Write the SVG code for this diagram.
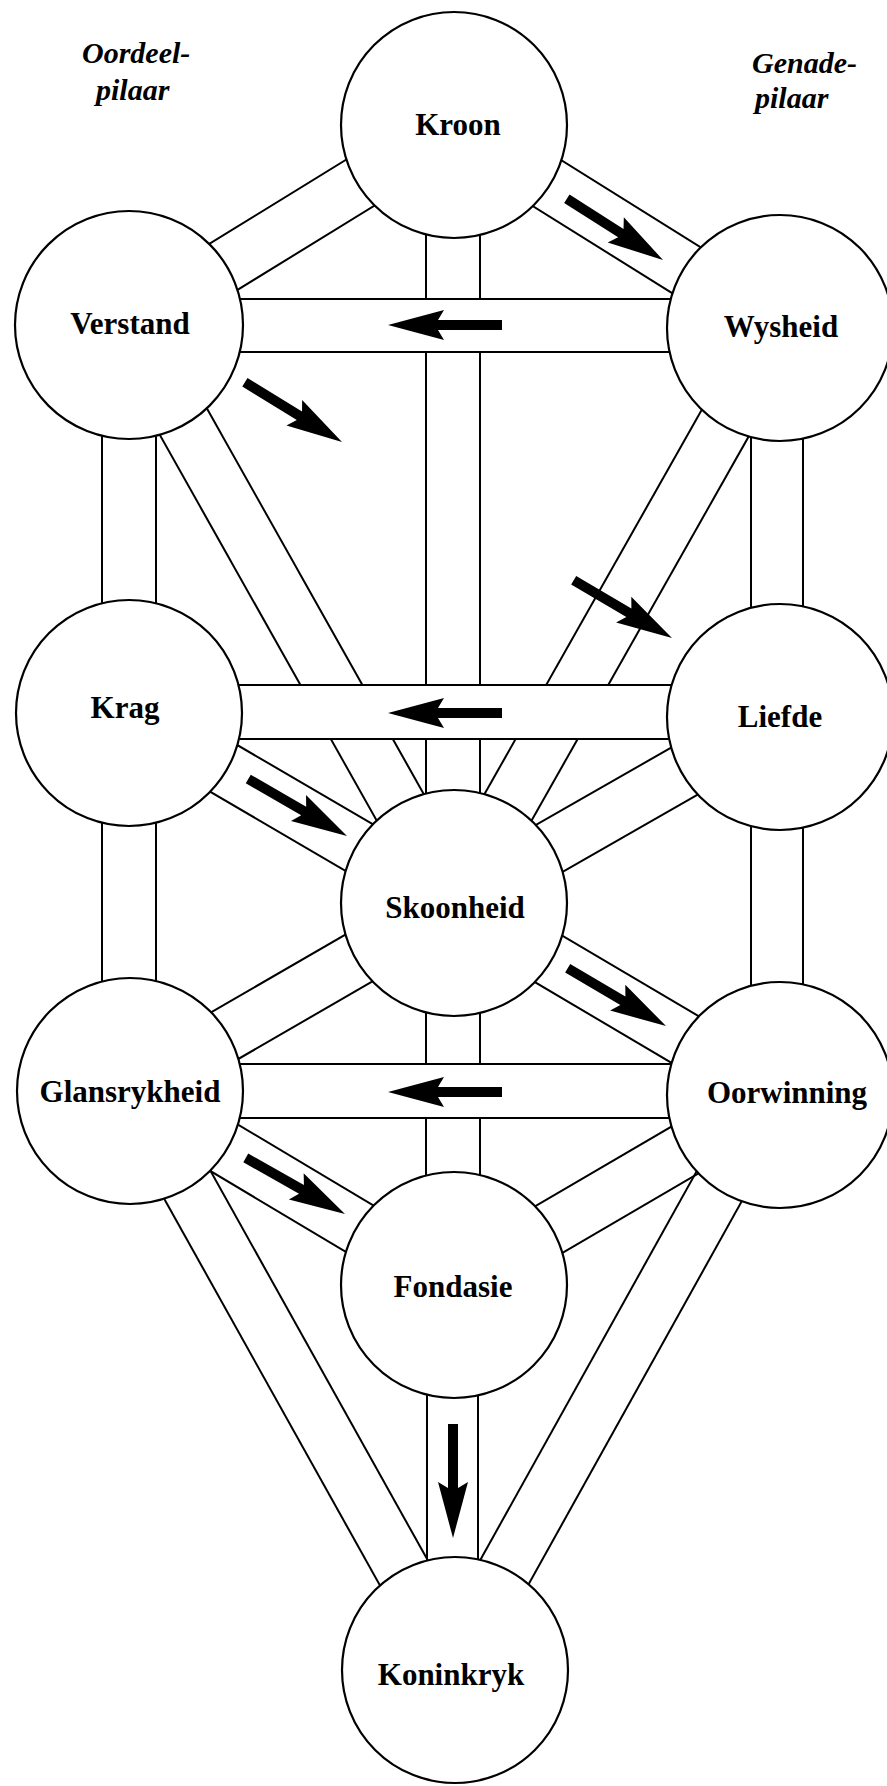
<svg xmlns="http://www.w3.org/2000/svg" xmlns:xlink="http://www.w3.org/1999/xlink" width="887" height="1786" viewBox="0 0 887 1786">
<style>
.ch line{stroke:#000;stroke-width:2;fill:none}
.bar rect{fill:#fff;stroke:none}
.node circle{fill:#fff;stroke:#000;stroke-width:2.2}
.lbl{font-family:"Liberation Serif","Times New Roman",serif;font-weight:bold;font-size:31px;text-anchor:middle;fill:#000}
.pil{font-family:"Liberation Serif","Times New Roman",serif;font-style:italic;font-weight:bold;font-size:30px;fill:#000}
.arr{fill:#000}
</style>
<defs>
<path id="arrow" d="M0,0 L-56,-15 L-50,-5 L-114,-5 L-114,5 L-50,5 L-56,15 Z"/>
</defs>
<rect width="887" height="1786" fill="#fff"/>
<g id="connectors">
  <g class="ch" transform="translate(454,125) rotate(148.4)"><line x1="0" y1="-27" x2="382" y2="-27"/><line x1="0" y1="27" x2="382" y2="27"/></g>
  <g class="ch" transform="translate(454,125) rotate(32)"><line x1="0" y1="-27" x2="383" y2="-27"/><line x1="0" y1="27" x2="383" y2="27"/></g>
  <g class="ch"><line x1="426" y1="125" x2="426" y2="903"/><line x1="480" y1="125" x2="480" y2="903"/></g>
  <g class="ch"><line x1="102" y1="325" x2="102" y2="713"/><line x1="156" y1="325" x2="156" y2="713"/></g>
  <g class="ch" transform="translate(129,325) rotate(60.65)"><line x1="0" y1="-27" x2="663" y2="-27"/><line x1="0" y1="27" x2="663" y2="27"/></g>
  <g class="ch"><line x1="751" y1="328" x2="751" y2="717"/><line x1="803" y1="328" x2="803" y2="717"/></g>
  <g class="ch" transform="translate(779,328) rotate(119.48)"><line x1="0" y1="-27" x2="660" y2="-27"/><line x1="0" y1="27" x2="660" y2="27"/></g>
  <g class="ch" transform="translate(129,713) rotate(30.31)"><line x1="0" y1="-27" x2="376" y2="-27"/><line x1="0" y1="27" x2="376" y2="27"/></g>
  <g class="ch" transform="translate(779,717) rotate(150.22)"><line x1="0" y1="-27" x2="374" y2="-27"/><line x1="0" y1="27" x2="374" y2="27"/></g>
  <g class="ch"><line x1="102" y1="713" x2="102" y2="1091"/><line x1="156" y1="713" x2="156" y2="1091"/></g>
  <g class="ch"><line x1="751" y1="717" x2="751" y2="1095"/><line x1="803" y1="717" x2="803" y2="1095"/></g>
  <g class="ch" transform="translate(454,903) rotate(149.95)"><line x1="0" y1="-27" x2="375" y2="-27"/><line x1="0" y1="27" x2="375" y2="27"/></g>
  <g class="ch" transform="translate(454,903) rotate(30.57)"><line x1="0" y1="-27" x2="377" y2="-27"/><line x1="0" y1="27" x2="377" y2="27"/></g>
  <g class="ch"><line x1="426" y1="903" x2="426" y2="1285"/><line x1="480" y1="903" x2="480" y2="1285"/></g>
  <g class="ch" transform="translate(129,1091) rotate(30.83)"><line x1="0" y1="-27" x2="378" y2="-27"/><line x1="0" y1="27" x2="378" y2="27"/></g>
  <g class="ch" transform="translate(779,1095) rotate(149.69)"><line x1="0" y1="-27" x2="376" y2="-27"/><line x1="0" y1="27" x2="376" y2="27"/></g>
  <g class="ch" transform="translate(135,1091) rotate(60.84)"><line x1="0" y1="-27" x2="663" y2="-27"/><line x1="0" y1="27" x2="663" y2="27"/></g>
  <g class="ch" transform="translate(770,1095) rotate(119.1)"><line x1="0" y1="-27" x2="658" y2="-27"/><line x1="0" y1="27" x2="658" y2="27"/></g>
  <g class="ch"><line x1="427" y1="1285" x2="427" y2="1670"/><line x1="478" y1="1285" x2="478" y2="1670"/></g>
  <g class="ch bar"><rect x="129" y="299" width="650" height="53"/><line x1="129" y1="299" x2="779" y2="299"/><line x1="129" y1="352" x2="779" y2="352"/></g>
  <g class="ch bar"><rect x="129" y="685" width="650" height="54"/><line x1="129" y1="685" x2="779" y2="685"/><line x1="129" y1="739" x2="779" y2="739"/></g>
  <g class="ch bar"><rect x="129" y="1064" width="650" height="54"/><line x1="129" y1="1064" x2="779" y2="1064"/><line x1="129" y1="1118" x2="779" y2="1118"/></g>
  <g id="arrows" class="arr">
    <use xlink:href="#arrow" href="#arrow" transform="translate(663,260) rotate(32.5)"/>
    <use xlink:href="#arrow" href="#arrow" transform="translate(388,325) rotate(180)"/>
    <use xlink:href="#arrow" href="#arrow" transform="translate(342,442) rotate(31.6)"/>
    <use xlink:href="#arrow" href="#arrow" transform="translate(672,638) rotate(30.4)"/>
    <use xlink:href="#arrow" href="#arrow" transform="translate(388,713) rotate(180)"/>
    <use xlink:href="#arrow" href="#arrow" transform="translate(347,836) rotate(30)"/>
    <use xlink:href="#arrow" href="#arrow" transform="translate(666,1026) rotate(30.4)"/>
    <use xlink:href="#arrow" href="#arrow" transform="translate(388,1092) rotate(180)"/>
    <use xlink:href="#arrow" href="#arrow" transform="translate(345,1214) rotate(29.5)"/>
    <use xlink:href="#arrow" href="#arrow" transform="translate(453,1538) rotate(90)"/>
  </g>
</g>
<g id="node-kroon" class="node"><circle cx="454" cy="125" r="113"/><text class="lbl" x="458" y="135">Kroon</text></g>
<g id="node-verstand" class="node"><circle cx="129" cy="325" r="114"/><text class="lbl" x="130" y="334">Verstand</text></g>
<g id="node-wysheid" class="node"><circle cx="780" cy="328" r="113"/><text class="lbl" x="781" y="337">Wysheid</text></g>
<g id="node-krag" class="node"><circle cx="129" cy="713" r="113"/><text class="lbl" x="125" y="718">Krag</text></g>
<g id="node-liefde" class="node"><circle cx="780" cy="717" r="113"/><text class="lbl" x="780" y="727">Liefde</text></g>
<g id="node-skoonheid" class="node"><circle cx="454" cy="903" r="113"/><text class="lbl" x="455" y="918">Skoonheid</text></g>
<g id="node-glansrykheid" class="node"><circle cx="130" cy="1091" r="113"/><text class="lbl" x="130" y="1102">Glansrykheid</text></g>
<g id="node-oorwinning" class="node"><circle cx="780" cy="1095" r="113"/><text class="lbl" x="787" y="1103">Oorwinning</text></g>
<g id="node-fondasie" class="node"><circle cx="454" cy="1285" r="113"/><text class="lbl" x="453" y="1297">Fondasie</text></g>
<g id="node-koninkryk" class="node"><circle cx="455" cy="1670" r="113"/><text class="lbl" x="451" y="1685">Koninkryk</text></g>
<g id="pillar-labels">
  <text class="pil" x="82" y="63">Oordeel-</text>
  <text class="pil" x="96" y="100">pilaar</text>
  <text class="pil" x="752" y="73">Genade-</text>
  <text class="pil" x="755" y="108">pilaar</text>
</g>
</svg>
